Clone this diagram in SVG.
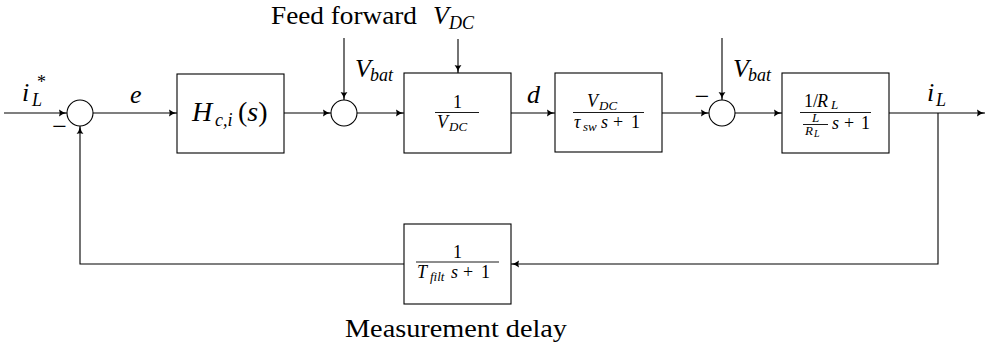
<svg xmlns="http://www.w3.org/2000/svg" width="988" height="344" viewBox="0 0 988 344" font-family="'Liberation Serif', 'DejaVu Serif', serif">
<style>
  .blk{fill:#fff;stroke:#000;stroke-width:1.1}
  .sum{fill:#fff;stroke:#000;stroke-width:1.1}
  .ln{fill:none;stroke:#000;stroke-width:1.1}
  .fr{stroke:#000;stroke-width:0.9}
  text{font-family:'Liberation Serif','DejaVu Serif',serif;fill:#000}
  .m{font-style:italic}
  .big{font-size:26px}
  .mid{font-size:18px}
  .sm{font-size:13px}
  .xs{font-size:10px}
</style>
<defs>
  <marker id="ah" markerUnits="userSpaceOnUse" markerWidth="10" markerHeight="8" refX="8" refY="4" orient="auto">
    <path d="M0,0.6 Q3,3.2 8,4 Q3,4.8 0,7.4 Q1.5,4 0,0.6 z" fill="#000"/>
  </marker>
</defs>

<g id="connectors">
  <line class="ln" x1="4" y1="113" x2="67" y2="113" marker-end="url(#ah)"/>
  <line class="ln" x1="93" y1="113" x2="177" y2="113" marker-end="url(#ah)"/>
  <line class="ln" x1="284" y1="113" x2="331" y2="113" marker-end="url(#ah)"/>
  <line class="ln" x1="357" y1="113" x2="404" y2="113" marker-end="url(#ah)"/>
  <line class="ln" x1="511" y1="113" x2="555" y2="113" marker-end="url(#ah)"/>
  <line class="ln" x1="662" y1="113" x2="709" y2="113" marker-end="url(#ah)"/>
  <line class="ln" x1="735" y1="113" x2="782" y2="113" marker-end="url(#ah)"/>
  <line class="ln" x1="889" y1="113" x2="985" y2="113" marker-end="url(#ah)"/>
  <line class="ln" x1="344" y1="38" x2="344" y2="100" marker-end="url(#ah)"/>
  <line class="ln" x1="458" y1="39" x2="458" y2="73" marker-end="url(#ah)"/>
  <line class="ln" x1="722" y1="38" x2="722" y2="100" marker-end="url(#ah)"/>
  <polyline class="ln" points="938,113 938,264 511,264" marker-end="url(#ah)"/>
  <polyline class="ln" points="404,264 80,264 80,126" marker-end="url(#ah)"/>
</g>

<g id="sum1">
  <circle class="sum" cx="80" cy="113" r="13"/>
  <text class="big" x="59.5" y="135" text-anchor="middle">−</text>
</g>

<g id="H">
  <rect class="blk" x="177" y="74" width="107" height="79"/>
  <text class="m" y="121"><tspan x="192" font-size="28">H</tspan><tspan x="215" y="126" class="mid">c,i</tspan><tspan x="238" y="121" font-size="28" font-style="normal">(</tspan><tspan font-size="28">s</tspan><tspan font-size="28" font-style="normal">)</tspan></text>
</g>

<g id="sum2">
  <circle class="sum" cx="344" cy="113" r="13"/>
</g>

<g id="feedforward">
  <rect class="blk" x="404" y="73" width="107" height="80"/>
  <text class="mid" x="457.5" y="108" text-anchor="middle">1</text>
  <line class="fr" x1="435" y1="112.5" x2="479" y2="112.5"/>
  <text class="m"><tspan class="mid" x="437" y="128">V</tspan><tspan class="sm" x="449" y="131">DC</tspan></text>
</g>

<g id="converter">
  <rect class="blk" x="555" y="73" width="107" height="79"/>
  <text class="m"><tspan class="mid" x="587" y="107">V</tspan><tspan class="sm" x="599" y="110">DC</tspan></text>
  <line class="fr" x1="573" y1="112.5" x2="644" y2="112.5"/>
  <text class="m"><tspan class="mid" x="574" y="128">τ</tspan><tspan class="sm" x="583" y="131">sw</tspan><tspan class="mid" x="601" y="128">s</tspan><tspan class="mid" x="613" y="128" font-style="normal">+</tspan><tspan class="mid" x="631" y="128" font-style="normal">1</tspan></text>
</g>

<g id="sum3">
  <circle class="sum" cx="722" cy="113" r="13"/>
  <text class="big" x="702" y="105" text-anchor="middle">−</text>
</g>

<g id="plant">
  <rect class="blk" x="782" y="73" width="107" height="80"/>
  <text class="mid"><tspan x="804" y="107">1/</tspan><tspan x="817" y="107" class="m">R</tspan><tspan x="831" y="109" class="sm m">L</tspan></text>
  <line class="fr" x1="800" y1="112.5" x2="871" y2="112.5"/>
  <text class="sm m" x="815.5" y="122" text-anchor="middle">L</text>
  <line class="fr" x1="803" y1="124.5" x2="828" y2="124.5"/>
  <text class="m"><tspan class="sm" x="805" y="135">R</tspan><tspan class="xs" x="814" y="137">L</tspan></text>
  <text class="mid"><tspan class="m" x="832" y="129">s</tspan><tspan x="844" y="129">+</tspan><tspan x="861" y="129">1</tspan></text>
</g>

<g id="filter">
  <rect class="blk" x="404" y="224" width="107" height="80"/>
  <text class="mid" x="457.5" y="258" text-anchor="middle">1</text>
  <line class="fr" x1="416" y1="262" x2="499" y2="262"/>
  <text class="m"><tspan class="mid" x="417" y="278">T</tspan><tspan class="sm" x="430" y="281">filt</tspan><tspan class="mid" x="451" y="278">s</tspan><tspan class="mid" x="463" y="278" font-style="normal">+</tspan><tspan class="mid" x="481" y="278" font-style="normal">1</tspan></text>
</g>

<g id="labels">
  <text class="m"><tspan class="big" x="22" y="101">i</tspan><tspan class="mid" x="32" y="106">L</tspan><tspan class="mid" x="37" y="88" font-style="normal">*</tspan></text>
  <text class="m big" x="130" y="103">e</text>
  <text class="m big" x="527" y="103">d</text>
  <text class="m"><tspan class="big" x="355" y="77">V</tspan><tspan class="mid" x="370" y="81">bat</tspan></text>
  <text class="m"><tspan class="big" x="733" y="77">V</tspan><tspan class="mid" x="748" y="81">bat</tspan></text>
  <text class="big" x="271" y="24" textLength="146" lengthAdjust="spacingAndGlyphs">Feed forward</text>
  <text class="m"><tspan class="big" x="433" y="24">V</tspan><tspan class="mid" x="449" y="29">DC</tspan></text>
  <text class="m"><tspan class="big" x="927" y="101">i</tspan><tspan class="mid" x="936" y="106">L</tspan></text>
  <text class="big" x="345" y="337" textLength="222" lengthAdjust="spacingAndGlyphs">Measurement delay</text>
</g>
</svg>
